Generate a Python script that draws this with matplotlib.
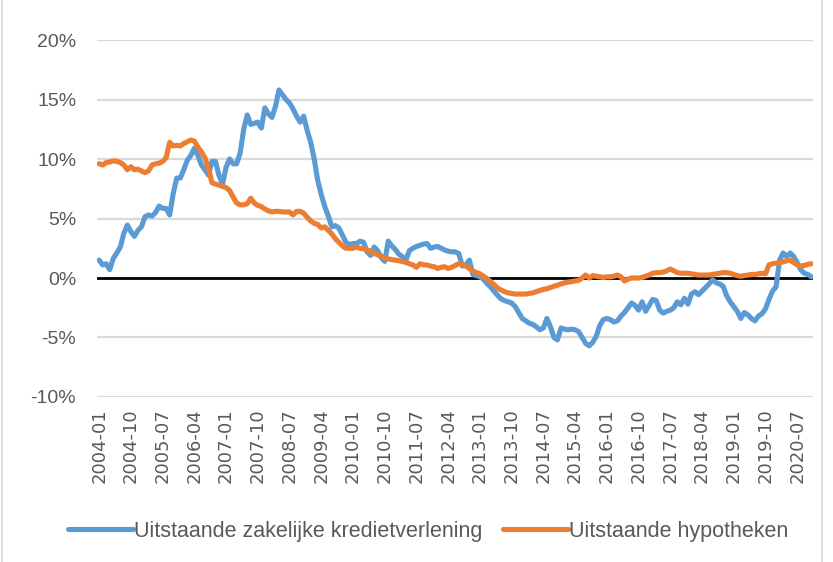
import matplotlib.pyplot as plt
import pandas as pd
from matplotlib.patches import Rectangle

# Maanden 2004-01 t/m 2020-11
maanden = [str(p) for p in pd.period_range('2004-01', '2020-11', freq='M')]

# Groei uitstaande zakelijke kredietverlening (%)
zakelijk = [
    1.5, 1.1, 1.2, 0.7, 1.65, 2.1, 2.6, 3.75, 4.45, 3.9,
    3.5, 4.0, 4.3, 5.15, 5.3, 5.2, 5.5, 6.05, 5.85, 5.85,
    5.3, 7.1, 8.4, 8.4, 9.1, 9.9, 10.3, 10.9, 10.3, 9.5,
    9.1, 8.65, 9.8, 9.8, 8.6, 7.9, 9.3, 10.0, 9.6, 9.6,
    10.5, 12.5, 13.7, 12.9, 13.0, 13.1, 12.6, 14.3, 13.8, 13.5,
    14.4, 15.8, 15.4, 15.0, 14.7, 14.2, 13.6, 13.1, 13.6, 12.4,
    11.4, 10.0, 8.2, 7.0, 6.0, 5.2, 4.3, 4.4, 4.2, 3.6,
    3.0, 2.8, 2.9, 2.9, 3.1, 3.0, 2.2, 1.9, 2.6, 2.3,
    1.7, 1.4, 3.1, 2.7, 2.4, 2.0, 1.8, 1.5, 2.3, 2.5,
    2.65, 2.75, 2.85, 2.9, 2.5, 2.6, 2.65, 2.5, 2.35, 2.25,
    2.2, 2.2, 2.05, 1.0, 1.1, 1.5, 0.3, 0.2, 0.1, -0.1,
    -0.45, -0.75, -1.1, -1.45, -1.75, -1.9, -2.0, -2.1, -2.4, -2.9,
    -3.4, -3.6, -3.8, -3.9, -4.1, -4.35, -4.2, -3.4, -4.1, -5.0,
    -5.2, -4.2, -4.3, -4.35, -4.3, -4.35, -4.5, -5.0, -5.5, -5.7,
    -5.4, -4.9, -4.0, -3.5, -3.4, -3.5, -3.7, -3.6, -3.2, -2.9,
    -2.5, -2.1, -2.3, -2.7, -2.0, -2.8, -2.3, -1.8, -1.9, -2.7,
    -2.95, -2.8, -2.7, -2.5, -2.0, -2.25, -1.7, -2.2, -1.35, -1.15,
    -1.4, -1.1, -0.8, -0.5, -0.15, -0.4, -0.5, -0.7, -1.5, -2.0,
    -2.4, -2.8, -3.4, -2.9, -3.1, -3.4, -3.6, -3.2, -3.0, -2.6,
    -1.8, -1.1, -0.75, 1.5, 2.1, 1.8, 2.1, 1.8, 1.3, 0.7,
    0.4, 0.3, 0.1,
]

# Groei uitstaande hypotheken (%)
hypotheken = [
    9.6, 9.5, 9.7, 9.75, 9.85, 9.8, 9.7, 9.5, 9.1, 9.35,
    9.1, 9.15, 9.0, 8.85, 9.0, 9.5, 9.6, 9.65, 9.8, 10.1,
    11.4, 11.1, 11.15, 11.1, 11.3, 11.45, 11.6, 11.5, 11.0, 10.6,
    10.1, 9.2, 8.0, 7.9, 7.8, 7.7, 7.6, 7.35, 6.8, 6.3,
    6.15, 6.15, 6.25, 6.7, 6.3, 6.1, 6.0, 5.8, 5.65, 5.55,
    5.6, 5.6, 5.55, 5.55, 5.55, 5.3, 5.6, 5.6, 5.45, 5.1,
    4.8, 4.6, 4.5, 4.2, 4.3, 4.0, 3.7, 3.3, 3.0, 2.7,
    2.5, 2.5, 2.5, 2.6, 2.5, 2.45, 2.35, 2.25, 2.05, 1.95,
    1.85, 1.7, 1.6, 1.55, 1.5, 1.45, 1.4, 1.3, 1.2, 1.1,
    0.9, 1.2, 1.1, 1.1, 1.0, 0.95, 0.8, 0.9, 0.95, 0.8,
    0.9, 1.05, 1.2, 1.15, 1.0, 0.8, 0.6, 0.45, 0.35, 0.15,
    -0.05, -0.3, -0.55, -0.85, -1.0, -1.15, -1.25, -1.3, -1.35, -1.35,
    -1.35, -1.35, -1.3, -1.25, -1.15, -1.05, -0.95, -0.9, -0.8, -0.7,
    -0.6, -0.5, -0.4, -0.35, -0.3, -0.25, -0.2, 0.0, 0.25, 0.0,
    0.2, 0.15, 0.1, 0.05, 0.1, 0.1, 0.15, 0.25, 0.1, -0.25,
    -0.1, 0.0, 0.0, 0.0, 0.05, 0.15, 0.25, 0.4, 0.45, 0.45,
    0.5, 0.6, 0.75, 0.6, 0.45, 0.4, 0.4, 0.4, 0.35, 0.3,
    0.25, 0.25, 0.25, 0.25, 0.3, 0.35, 0.4, 0.45, 0.45, 0.4,
    0.3, 0.2, 0.15, 0.2, 0.25, 0.3, 0.3, 0.35, 0.4, 0.35,
    1.1, 1.2, 1.25, 1.3, 1.35, 1.45, 1.5, 1.3, 1.1, 1.0,
    1.05, 1.15, 1.2,
]

y_ticks = [-10, -5, 0, 5, 10, 15, 20]

fig = plt.figure(figsize=(8.33, 5.62), dpi=100)
ax = fig.add_axes([0.1165, 0.2936, 0.9765 - 0.1165, 0.9288 - 0.2936])

x = list(range(len(maanden)))
ax.plot(x, zakelijk, color='#5B9BD5', lw=3.7, solid_joinstyle='round',
        solid_capstyle='round', label='Uitstaande zakelijke kredietverlening', zorder=3)
ax.plot(x, hypotheken, color='#ED7D31', lw=3.7, solid_joinstyle='round',
        solid_capstyle='round', label='Uitstaande hypotheken', zorder=4)

ax.set_xlim(-0.6, len(maanden) - 0.4)
ax.set_ylim(-10, 20)
ax.set_yticks(y_ticks)
ax.set_yticklabels([f'{v}%' for v in y_ticks], fontsize=14,
                   color='#595959', family='Liberation Sans')
for v in y_ticks:
    if v != 0:
        ax.axhline(v, color='#D9D9D9', lw=1.6, zorder=1)
ax.axhline(0, color='black', lw=2.0, zorder=2)

ax.set_xticks(x[::9])
ax.set_xticklabels(maanden[::9], rotation=90, fontsize=13,
                   color='#595959', family='DejaVu Sans')
ax.tick_params(length=0, pad=8)
ax.tick_params(axis='y', pad=15)
for s in ax.spines.values():
    s.set_visible(False)

# rand van het grafiekgebied
fig.patches.append(Rectangle((0.0025, -0.01), 0.984, 1.02, transform=fig.transFigure,
                             fill=False, edgecolor='#D9D9D9', lw=1.2))

fig.legend(loc='center', bbox_to_anchor=(0.514, 0.055), ncol=2, frameon=False,
           handlelength=3.0, columnspacing=1.0, handletextpad=0.05,
           prop={'family': 'Liberation Sans', 'size': 15.5}, labelcolor='#595959')

fig.savefig('out.png', dpi=100)
